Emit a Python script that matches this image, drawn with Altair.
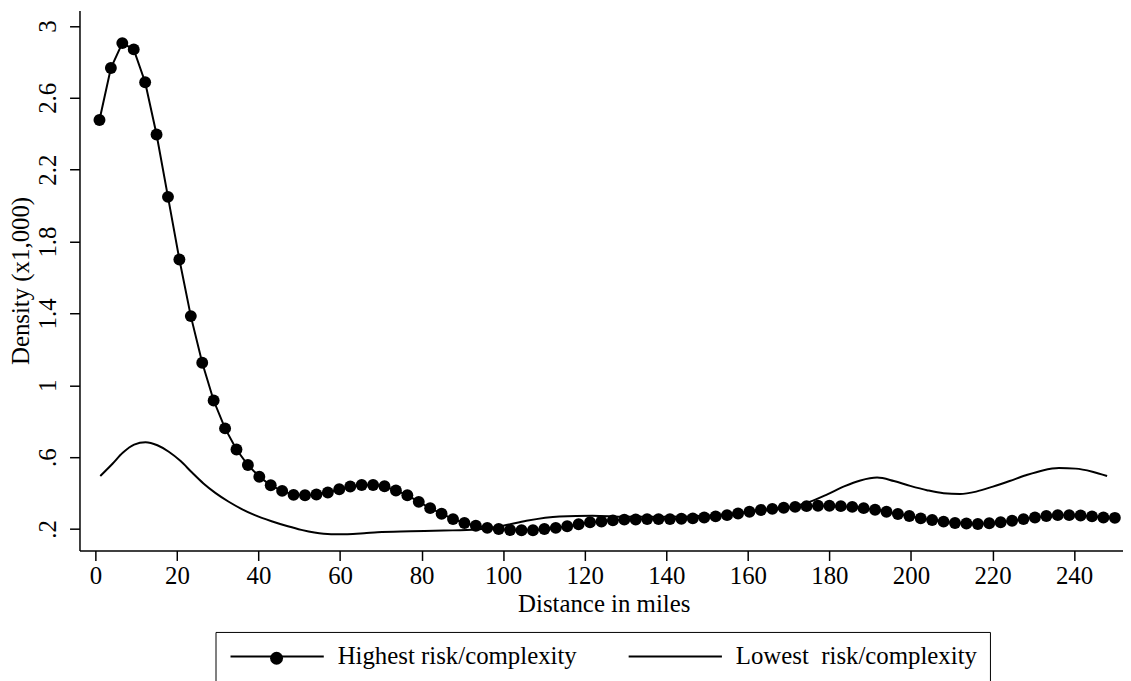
import altair as alt
import pandas as pd

FONT = "Liberation Serif"
FS = 25

series_names = ["Highest risk/complexity", "Lowest\u00a0 risk/complexity"]

hi_x = [1.0, 3.8, 6.6, 9.4, 12.2, 15.0, 17.8, 20.6, 23.4, 26.2,
        29.0, 31.8, 34.6, 37.4, 40.2, 43.0, 45.8, 48.6, 51.4, 54.2,
        57.0, 59.8, 62.5, 65.3, 68.1, 70.9, 73.7, 76.5, 79.3, 82.1,
        84.9, 87.7, 90.5, 93.3, 96.1, 98.9, 101.7, 104.5, 107.3, 110.1,
        112.9, 115.7, 118.5, 121.3, 124.1, 126.9, 129.7, 132.5, 135.3, 138.1,
        140.9, 143.7, 146.5, 149.3, 152.1, 154.9, 157.6, 160.4, 163.2, 166.0,
        168.8, 171.6, 174.4, 177.2, 180.0, 182.8, 185.6, 188.4, 191.2, 194.0,
        196.8, 199.6, 202.4, 205.2, 208.0, 210.8, 213.6, 216.4, 219.2, 222.0,
        224.8, 227.6, 230.4, 233.2, 236.0, 238.8, 241.6, 244.4, 247.2, 250.0]
hi_y = [2.477, 2.766, 2.905, 2.870, 2.687, 2.396, 2.049, 1.700, 1.385, 1.125,
        0.915, 0.760, 0.642, 0.556, 0.491, 0.443, 0.412, 0.390, 0.388, 0.392,
        0.403, 0.421, 0.436, 0.445, 0.445, 0.438, 0.414, 0.388, 0.351, 0.316,
        0.285, 0.255, 0.233, 0.218, 0.206, 0.200, 0.194, 0.193, 0.193, 0.200,
        0.206, 0.215, 0.226, 0.237, 0.242, 0.248, 0.252, 0.253, 0.255, 0.255,
        0.255, 0.257, 0.259, 0.264, 0.270, 0.277, 0.286, 0.296, 0.306, 0.312,
        0.318, 0.323, 0.327, 0.329, 0.329, 0.327, 0.323, 0.316, 0.307, 0.296,
        0.283, 0.272, 0.259, 0.250, 0.241, 0.233, 0.230, 0.228, 0.232, 0.237,
        0.246, 0.255, 0.264, 0.272, 0.277, 0.277, 0.275, 0.270, 0.264, 0.262]

lo_x = [1.2, 4.2, 6.7, 9.5, 12.3, 15.2, 18.0, 20.9, 23.7, 26.5,
        29.4, 32.6, 35.9, 39.1, 43.2, 47.2, 50.5, 53.7, 57.8, 61.8,
        65.9, 69.2, 77.3, 85.4, 93.5, 100.0, 105.7, 113.8, 121.9, 130.0,
        140.0, 150.0, 160.0, 170.0, 175.1, 179.5, 183.6, 187.6, 191.7, 195.8,
        199.8, 203.9, 208.0, 212.0, 216.0, 220.1, 224.2, 228.2, 232.3, 236.3,
        240.4, 244.5, 248.1]
lo_y = [0.495, 0.563, 0.624, 0.670, 0.683, 0.666, 0.630, 0.578, 0.514, 0.453,
        0.401, 0.353, 0.311, 0.277, 0.243, 0.215, 0.195, 0.180, 0.171, 0.171,
        0.176, 0.182, 0.187, 0.191, 0.197, 0.218, 0.246, 0.270, 0.274, 0.268,
        0.268, 0.275, 0.295, 0.320, 0.351, 0.393, 0.437, 0.470, 0.486, 0.467,
        0.440, 0.416, 0.399, 0.395, 0.408, 0.436, 0.467, 0.499, 0.526, 0.539,
        0.536, 0.519, 0.495]

x_ticks = [0, 20, 40, 60, 80, 100, 120, 140, 160, 180, 200, 220, 240]
y_ticks = [0.2, 0.6, 1.0, 1.4, 1.8, 2.2, 2.6, 3.0]

hi_df = pd.DataFrame({"x": hi_x, "y": hi_y, "series": series_names[0], "marker": series_names[0]})
lo_df = pd.DataFrame({"x": lo_x, "y": lo_y, "series": series_names[1]})

xs = alt.Scale(domain=[-3.9, 252], nice=False, zero=False)
ys = alt.Scale(domain=[0.08, 3.087], nice=False, zero=False)

x_axis = alt.Axis(
    values=x_ticks, title="Distance in miles", grid=False,
    domainColor="black", domainWidth=1.5, tickColor="black", tickWidth=1.5, tickSize=10,
    labelFont=FONT, labelFontSize=FS, labelColor="black", labelBaseline="alphabetic",
    labelPadding=23, labelFlush=False, labelOverlap=False,
    titleFont=FONT, titleFontSize=FS, titleFontWeight="normal", titleColor="black",
    titleBaseline="alphabetic", titleY=61, titleX=528,
)
y_axis = alt.Axis(
    values=y_ticks, title="Density (x1,000)", grid=False,
    labelExpr="datum.value < 1 ? '.' + format(datum.value * 10, '.0f') : format(datum.value, '.1~f')",
    domainColor="black", domainWidth=1.5, tickColor="black", tickWidth=1.5, tickSize=10,
    labelFont=FONT, labelFontSize=FS, labelColor="black", labelAngle=270,
    labelAlign="center", labelBaseline="alphabetic", labelPadding=14, labelOverlap=False,
    titleFont=FONT, titleFontSize=FS, titleFontWeight="normal", titleColor="black",
    titleAngle=270, titleAlign="center", titleBaseline="alphabetic", titleX=-51, titleY=272,
)

color_scale = alt.Scale(domain=series_names, range=["black", "black"])
line_legend = alt.Legend(
    title=None, orient="none", legendX=137, legendY=626, direction="horizontal",
    symbolType="M-1,0H9", symbolSize=353, symbolStrokeWidth=2, symbolStrokeColor="black",
    symbolFillColor="transparent",
    labelFont=FONT, labelFontSize=FS, labelColor="black", labelLimit=500, labelOffset=86,
    columnPadding=48, padding=12, strokeColor="black", fillColor="white",
)

hi_line = alt.Chart(hi_df).mark_line(strokeWidth=2).encode(
    x=alt.X("x:Q", scale=xs, axis=x_axis),
    y=alt.Y("y:Q", scale=ys, axis=y_axis),
    color=alt.Color("series:N", scale=color_scale, legend=line_legend),
)
lo_line = alt.Chart(lo_df).mark_line(strokeWidth=2, interpolate="monotone").encode(
    x=alt.X("x:Q", scale=xs),
    y=alt.Y("y:Q", scale=ys),
    color=alt.Color("series:N", scale=color_scale, legend=line_legend),
)
hi_pts = alt.Chart(hi_df).mark_point(filled=True, size=144, opacity=1, color="black", strokeWidth=0).encode(
    x=alt.X("x:Q", scale=xs),
    y=alt.Y("y:Q", scale=ys),
    shape=alt.Shape("marker:N", scale=alt.Scale(domain=[series_names[0]], range=["circle"]),
                    legend=alt.Legend(title=None, orient="none", legendX=192, legendY=646,
                                      labelExpr="''", labelFontSize=1, symbolSize=169,
                                      symbolFillColor="black", symbolStrokeWidth=0,
                                      symbolOpacity=1, padding=0)),
)

chart = alt.layer(lo_line, hi_line, hi_pts).properties(
    width=1051, height=544,
    padding={"left": 72, "top": 0, "right": 0, "bottom": 130},
    autosize=alt.AutoSizeParams(type="none"),
    background="white",
).configure_view(stroke=None)

chart.save("out.html", embed_options={"renderer": "svg", "actions": False})
